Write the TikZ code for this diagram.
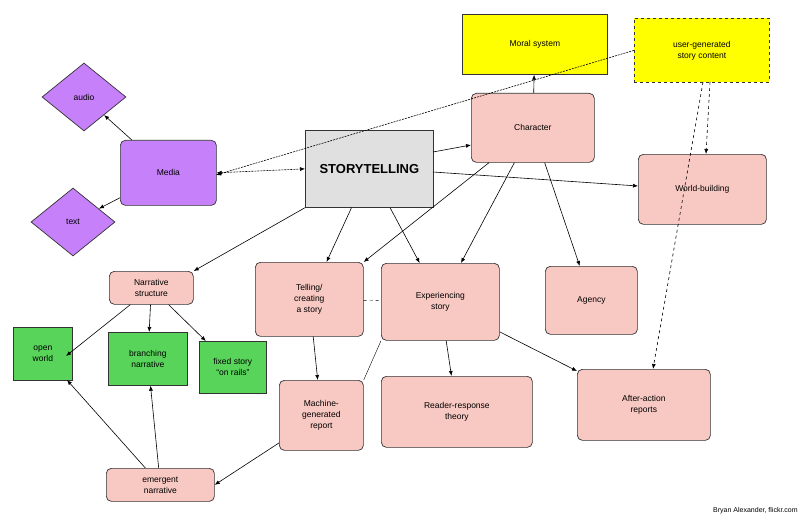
\documentclass[tikz,border=0pt]{standalone}
\usepackage{fontspec}
\setmainfont{Liberation Sans}
\usetikzlibrary{shapes.geometric,arrows.meta}
\definecolor{pink}{RGB}{248,200,194}
\definecolor{purp}{RGB}{198,128,250}
\definecolor{grn}{RGB}{88,212,90}
\definecolor{yel}{RGB}{255,255,0}
\definecolor{gry}{RGB}{224,224,224}
\begin{document}
\begin{tikzpicture}[x=1pt,y=-1pt,
  every node/.style={font=\fontsize{8.5}{11}\selectfont,align=center,draw=black!80,line width=0.7pt},
  bx/.style={rounded corners=5pt,fill=pink},
  gb/.style={fill=grn},
  dm/.style={diamond,fill=purp,minimum width=84,minimum height=68,inner sep=0},
  ar/.style={-{Latex[length=5pt,width=4pt]},line width=0.6pt},
  dt/.style={dash pattern=on 2pt off 1pt}]
\useasboundingbox (0,0) rectangle (800,516);
\fill[white] (0,0) rectangle (800,516);
\node[bx,fill=yel,rounded corners=0,minimum width=145,minimum height=60,anchor=north west] (moral) at (462,14) {Moral system};
\node[bx,fill=yel,rounded corners=0,dashed,minimum width=135,minimum height=64,anchor=north west] (ugc) at (634,18) {user-generated\\story content};
\node[dm] (audio) at (84,97) {audio};
\node[dm] (text) at (73,222) {text};
\node[bx,fill=purp,minimum width=96,minimum height=65,anchor=north west] (media) at (120,140) {Media};
\node[fill=gry,minimum width=128,minimum height=77,anchor=north west,font=\bfseries\fontsize{13}{15}\selectfont] (story) at (305,130) {STORYTELLING};
\node[bx,minimum width=123,minimum height=69,anchor=north west] (char) at (471,93) {Character};
\node[bx,minimum width=128,minimum height=70,anchor=north west] (world) at (638,154) {World-building};
\node[bx,minimum width=84,minimum height=33,anchor=north west] (narr) at (109,271) {Narrative\\structure};
\node[bx,minimum width=108,minimum height=74,anchor=north west] (tell) at (255,262) {Telling/\\creating\\a story};
\node[bx,minimum width=118,minimum height=77,anchor=north west] (exp) at (381,263) {Experiencing\\story};
\node[bx,minimum width=92,minimum height=68,anchor=north west] (agency) at (545,266) {Agency};
\node[gb,minimum width=59,minimum height=53,anchor=north west] (open) at (13,327) {open\\world};
\node[gb,minimum width=79,minimum height=53,anchor=north west] (branch) at (108,332) {branching\\narrative};
\node[gb,minimum width=67,minimum height=52,anchor=north west] (fixed) at (199,341) {fixed story\\“on rails”};
\node[bx,minimum width=84,minimum height=70,anchor=north west] (mach) at (279,380) {Machine-\\generated\\report};
\node[bx,minimum width=151,minimum height=71,anchor=north west] (reader) at (381,376) {Reader-response\\theory};
\node[bx,minimum width=133,minimum height=71,anchor=north west] (after) at (577,369) {After-action\\reports};
\node[bx,minimum width=108,minimum height=33,anchor=north west] (emer) at (106,468) {emergent\\narrative};
\node[draw=none,anchor=south east,font=\fontsize{7}{8}\selectfont,inner sep=2pt] (credit) at (800,516) {Bryan Alexander, flickr.com};
\coordinate (mediaU) at (216,175);
\coordinate (storyC) at (433,152);
\coordinate (charS) at (471,145);
\coordinate (storyW) at (433,172);
\coordinate (worldW) at (638,186);
\coordinate (ugcA) at (710,82);
\coordinate (ugcB) at (703,82);
\coordinate (worldT) at (706,154);
\coordinate (afterT) at (653,369);
\coordinate (openR) at (66,356);
\coordinate (openB) at (67,380);
% edges
\draw[ar] (media) -- (audio);
\draw[ar] (media) -- (text);
\draw[line width=0.6pt,{Latex[length=5pt,width=4pt]}-{Latex[length=5pt,width=4pt]},dt] (media.east) -- (story.west);
\draw[ar,dt] (ugc.west) -- (mediaU);
\draw[ar] (char) -- (moral);
\draw[ar] (storyC) -- (charS);
\draw[ar] (storyW) -- (worldW);
\draw[ar] (story.south west) -- (narr.north east);
\draw[ar] (story) -- (tell);
\draw[ar] (story) -- (exp);
\draw[ar] (char) -- (tell.north east);
\draw[ar] (char) -- (exp);
\draw[ar] (char) -- (agency);
\draw[ar,dashed] (ugcA) -- (worldT);
\draw[ar,dashed] (ugcB) -- (afterT);
\draw[dashed] (tell) -- (exp);
\draw[ar] (narr) -- (openR);
\draw[ar] (narr) -- (branch);
\draw[ar] (narr) -- (fixed);
\draw[ar] (tell) -- (mach);
\draw (exp.south west) -- (mach.north east);
\draw[ar] (exp) -- (reader);
\draw[ar] (exp) -- (after);
\draw[ar] (mach) -- (emer.east);
\draw[ar] (emer) -- (openB);
\draw[ar] (emer) -- (branch);
\end{tikzpicture}
\end{document}
